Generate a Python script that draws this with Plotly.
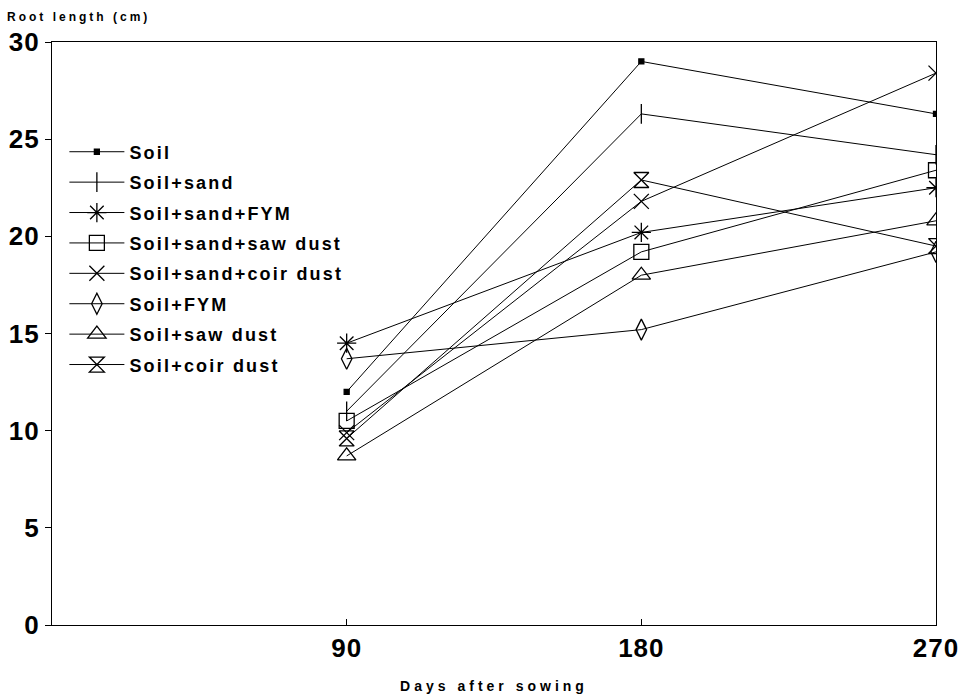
import plotly.graph_objects as go

days = [90, 180, 270]
series_names = ["Soil", "Soil+sand", "Soil+sand+FYM", "Soil+sand+saw dust",
                "Soil+sand+coir dust", "Soil+FYM", "Soil+saw dust", "Soil+coir dust"]
soil = [12.0, 29.0, 26.3]
soil_sand = [11.0, 26.3, 24.2]
soil_sand_fym = [14.5, 20.2, 22.5]
soil_sand_saw = [10.5, 19.2, 23.4]
soil_sand_coir = [9.9, 21.8, 28.4]
soil_fym = [13.7, 15.2, 19.2]
soil_saw = [8.7, 18.0, 20.8]
soil_coir = [9.6, 22.9, 19.5]
values = [soil, soil_sand, soil_sand_fym, soil_sand_saw, soil_sand_coir,
          soil_fym, soil_saw, soil_coir]
y_ticks = [0, 5, 10, 15, 20, 25, 30]
x_ticks = [90, 180, 270]


def spaced(t, px):
    return '<span style="letter-spacing:%spx">%s</span>' % (px, t)


symbols = ["square", "line-ns-open", "asterisk-open", "square-open", "x-thin-open",
           "diamond-tall-open", "triangle-up-open", "hourglass-open"]
sizes = [5, 14, 16, 15, 15, 15, 16, 15]

fig = go.Figure()
for i, (name, vals) in enumerate(zip(series_names, values)):
    fig.add_trace(go.Scatter(
        x=days, y=vals, name=spaced(name, 2.2), mode="lines+markers",
        line=dict(color="black", width=1),
        marker=dict(symbol=symbols[i], size=sizes[i], color="black",
                    line=dict(color="black", width=1.3)),
        legendgroup=str(i),
    ))

font_family = "Liberation Sans, Arial, sans-serif"
fig.update_layout(
    width=966, height=694,
    margin=dict(l=52, r=30, t=42, b=69),
    plot_bgcolor="white", paper_bgcolor="white",
    showlegend=True,
    legend=dict(x=0.014, y=0.843, xanchor="left", yanchor="top",
                font=dict(family=font_family, size=18, color="black", weight="bold"),
                bgcolor="rgba(0,0,0,0)", tracegroupgap=4, itemwidth=55),
    font=dict(family=font_family, color="black"),
)
fig.update_xaxes(range=[0, 270], tickvals=x_ticks,
                 ticktext=[spaced(str(v), 1) for v in x_ticks],
                 ticks="inside", ticklen=6,
                 tickcolor="black", showline=True, linecolor="black", linewidth=1.2,
                 mirror=True, showgrid=False, zeroline=False, automargin=False,
                 tickfont=dict(family=font_family, size=26, color="black", weight="bold"),
                 title=dict(text=spaced("Days after sowing", 4), standoff=19,
                            font=dict(family=font_family, size=14, color="black", weight="bold")))
fig.update_yaxes(range=[0, 30], tickvals=y_ticks,
                 ticktext=[spaced(str(v), 1) for v in y_ticks],
                 ticks="outside", ticklen=6,
                 tickcolor="black", showline=True, linecolor="black", linewidth=1.2,
                 mirror=True, showgrid=False, zeroline=False, automargin=False,
                 tickfont=dict(family=font_family, size=26, color="black", weight="bold"))
fig.add_annotation(text=spaced("Root length (cm)", 3), xref="paper", yref="paper",
                   x=-0.053, y=1, xanchor="left", yanchor="bottom", yshift=16,
                   showarrow=False,
                   font=dict(family=font_family, size=12, color="black", weight="bold"))

fig.write_html("out.html", config={"displayModeBar": False},
               post_script="document.body.style.margin='0';")
